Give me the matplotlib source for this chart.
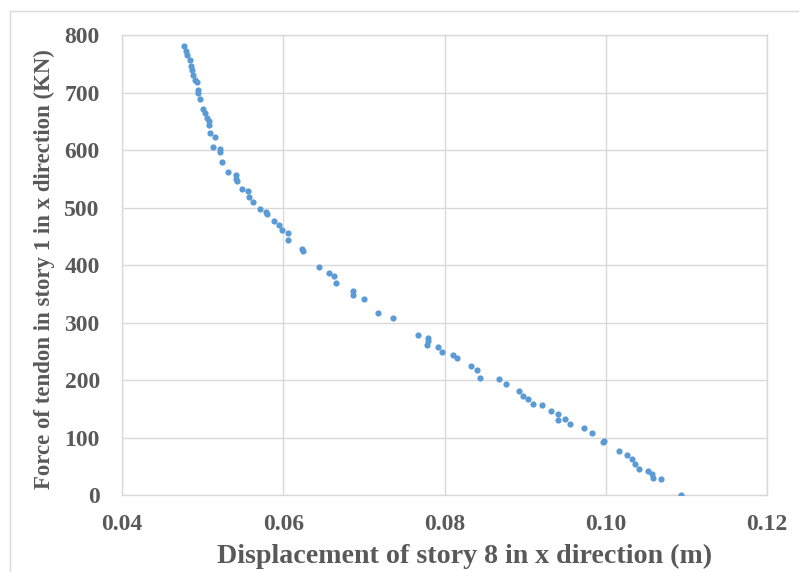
import matplotlib.pyplot as plt
import matplotlib.patches as patches

# Displacement of story 8 (m) and tendon force in story 1 (KN).
displacement = [
    0.0477, 0.0479, 0.0481, 0.0484, 0.0485, 0.0487, 0.0488, 0.0491, 0.0493,
    0.0494, 0.0494, 0.0497, 0.0500, 0.0503, 0.0506, 0.0508, 0.0508, 0.0509,
    0.0515, 0.0513, 0.0521, 0.0522, 0.0524, 0.0531, 0.0541, 0.0541, 0.0543,
    0.0549, 0.0556, 0.0557, 0.0563, 0.0571, 0.0578, 0.0580, 0.0588, 0.0595,
    0.0599, 0.0606, 0.0606, 0.0623, 0.0625, 0.0644, 0.0657, 0.0663, 0.0665,
    0.0687, 0.0687, 0.0700, 0.0717, 0.0736, 0.0767, 0.0780, 0.0779, 0.0778,
    0.0792, 0.0797, 0.0810, 0.0816, 0.0833, 0.0840, 0.0844, 0.0867, 0.0876,
    0.0892, 0.0897, 0.0904, 0.0910, 0.0921, 0.0932, 0.0941, 0.0941, 0.0949,
    0.0956, 0.0973, 0.0983, 0.0997, 0.0998, 0.1016, 0.1026, 0.1032, 0.1036,
    0.1041, 0.1052, 0.1057, 0.1058, 0.1068, 0.1093,
]
force = [
    781, 773, 766, 757, 746, 739, 731, 722, 719,
    705, 700, 688, 671, 664, 656, 651, 643, 629,
    622, 606, 601, 596, 579, 561, 557, 549, 546,
    532, 528, 518, 509, 498, 493, 488, 477, 470,
    461, 455, 443, 428, 424, 396, 386, 381, 369,
    354, 348, 341, 317, 307, 278, 273, 267, 261,
    257, 249, 244, 238, 225, 218, 204, 202, 193,
    181, 173, 167, 159, 156, 146, 141, 130, 133,
    123, 117, 107, 92, 94, 76, 70, 62, 54,
    46, 41, 37, 30, 28, 0,
]

x_ticks = [0.04, 0.06, 0.08, 0.10, 0.12]
x_tick_labels = ['0.04', '0.06', '0.08', '0.10', '0.12']
y_ticks = [0, 100, 200, 300, 400, 500, 600, 700, 800]

text_color = '#595959'
grid_color = '#d9d9d9'
point_color = '#5b9bd5'

plt.rcParams['font.family'] = ['Liberation Serif', 'DejaVu Serif']
plt.rcParams['font.weight'] = 'bold'

fig = plt.figure(figsize=(7.99, 5.72), dpi=100)
ax = fig.add_axes([0.1527, 0.1346, 0.8073, 0.8042])

# Light outer frame around the whole chart area
fig.patches.append(patches.Rectangle((10 / 799, -0.05), 1.0, 1.05 - 11 / 572,
                                     transform=fig.transFigure, fill=False,
                                     edgecolor=grid_color, linewidth=1.0))

ax.scatter(displacement, force, s=20, color=point_color, zorder=3,
           linewidths=0)

ax.set_xlim(0.04, 0.12)
ax.set_ylim(0, 800)
ax.set_xticks(x_ticks)
ax.set_xticklabels(x_tick_labels)
ax.set_yticks(y_ticks)
ax.grid(True, color=grid_color, linewidth=1.0)
ax.set_axisbelow(True)

for spine in ax.spines.values():
    spine.set_color(grid_color)
    spine.set_linewidth(1.0)

ax.tick_params(axis='both', length=0, labelsize=17, labelcolor=text_color)
ax.tick_params(axis='y', pad=16)
ax.tick_params(axis='x', pad=14)

ax.set_xlabel('Displacement of story 8 in x direction (m)', fontsize=20.2,
              fontweight='bold', color=text_color, labelpad=6)
ax.xaxis.label.set_x(0.531)
ax.set_ylabel('Force of tendon in story 1 in x direction (KN)', fontsize=16.5,
              fontweight='bold', color=text_color, labelpad=7)
ax.yaxis.label.set_y(0.492)

fig.savefig('out.png', dpi=100)
